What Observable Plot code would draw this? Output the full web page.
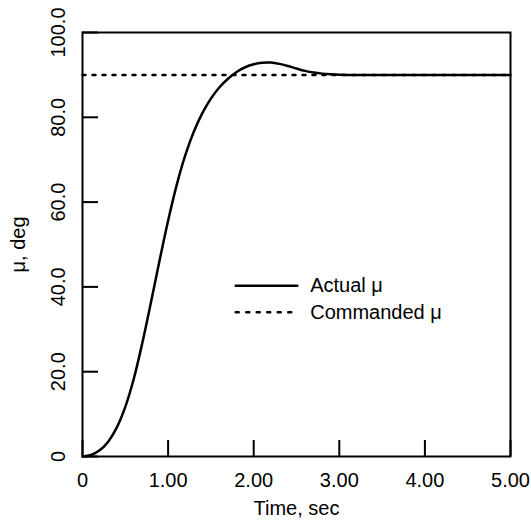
<!DOCTYPE html>
<html>
<head>
<meta charset="utf-8">
<script src="https://cdn.jsdelivr.net/npm/d3@7"></script>
<script src="https://cdn.jsdelivr.net/npm/@observablehq/plot@0.6"></script>
<style>
  html, body { margin: 0; padding: 0; background: #fff; }
  #chart svg { font-family: "Liberation Sans", Arial, Helvetica, sans-serif; }
</style>
</head>
<body>
<div id="chart"></div>
<script>
// Data
const time = [0, 0.1, 0.2, 0.3, 0.4, 0.5, 0.6, 0.7, 0.8, 0.9, 1.0, 1.1, 1.2, 1.3, 1.4, 1.5, 1.6, 1.7, 1.8, 1.9, 2.0, 2.1, 2.2, 2.3, 2.4, 2.5, 2.6, 2.7, 2.8, 2.9, 3.0, 3.2, 3.5, 4.0, 4.5, 5.0];
const actualMu = [0, 0.35, 1.45, 3.5, 6.8, 11.7, 18.4, 26.9, 36.4, 46.2, 55.6, 64.0, 71.0, 76.6, 81.0, 84.4, 87.1, 89.1, 90.7, 91.8, 92.5, 92.85, 92.9, 92.6, 92.1, 91.5, 90.95, 90.55, 90.3, 90.15, 90.05, 90, 90, 90, 90, 90];
const commandedTime = [0, 5];
const commandedMu = [90, 90];
const xTicks = [0, 1, 2, 3, 4, 5];
const xTickLabels = ["0", "1.00", "2.00", "3.00", "4.00", "5.00"];
const yTicks = [0, 20, 40, 60, 80, 100];
const yTickLabels = ["0", "20.0", "40.0", "60.0", "80.0", "100.0"];
const seriesNames = ["Actual \u03bc", "Commanded \u03bc"];
const xLabel = "Time, sec";
const yLabel = "\u03bc, deg";

const actual = time.map((t, i) => ({t, mu: actualMu[i]}));
const commanded = commandedTime.map((t, i) => ({t, mu: commandedMu[i]}));

const W = 531, H = 520;
const mL = 82, mR = 21, mT = 32, mB = 64;
const frameW = W - mL - mR, frameH = H - mT - mB;
const tickLen = 16;

const legend = [
  {name: seriesNames[0], x1: 1.79, x2: 2.51, y: 40.3},
  {name: seriesNames[1], x1: 1.79, x2: 2.51, y: 34.0}
];
const legendLines = legend.flatMap((d, i) => [{k: i, t: d.x1, mu: d.y}, {k: i, t: d.x2, mu: d.y}]);

const chart = Plot.plot({
  width: W,
  height: H,
  marginLeft: mL,
  marginRight: mR,
  marginTop: mT,
  marginBottom: mB,
  style: {fontFamily: "Liberation Sans, Arial, Helvetica, sans-serif", fontSize: "20px", color: "#000", background: "#fff"},
  x: {domain: [0, 5]},
  y: {domain: [0, 100]},
  marks: [
    Plot.tickX(xTicks, {x: d => d, insetTop: frameH - tickLen, stroke: "#000", strokeWidth: 2}),
    Plot.tickY(yTicks, {y: d => d, insetRight: frameW - tickLen, stroke: "#000", strokeWidth: 2}),
    Plot.axisX({
      ticks: xTicks, tickFormat: d => xTickLabels[xTicks.indexOf(d)],
      tickSize: 0, tickPadding: 16, fontSize: 20, fill: "#000",
      label: xLabel, labelAnchor: "center", labelOffset: 58, labelArrow: "none"
    }),
    Plot.axisY({
      ticks: yTicks, tickFormat: d => yTickLabels[yTicks.indexOf(d)],
      tickSize: 0, tickRotate: -90, tickPadding: 18, fontSize: 20, fill: "#000",
      label: yLabel, labelAnchor: "center", labelOffset: 72, labelArrow: "none"
    }),
    Plot.line(commanded, {x: "t", y: "mu", stroke: "#000", strokeWidth: 2.5, strokeDasharray: "3,7"}),
    Plot.line(actual, {x: "t", y: "mu", stroke: "#000", strokeWidth: 2.5, curve: "catmull-rom"}),
    Plot.line(legendLines.filter(d => d.k === 0), {x: "t", y: "mu", stroke: "#000", strokeWidth: 2.5}),
    Plot.line(legendLines.filter(d => d.k === 1), {x: "t", y: "mu", stroke: "#000", strokeWidth: 2.5, strokeDasharray: "3,7.5"}),
    Plot.text(legend, {x: d => 2.66, y: "y", text: "name", textAnchor: "start", fontSize: 20, fill: "#000"}),
    Plot.frame({stroke: "#000", strokeWidth: 2})
  ]
});
document.getElementById("chart").appendChild(chart);
</script>
</body>
</html>
